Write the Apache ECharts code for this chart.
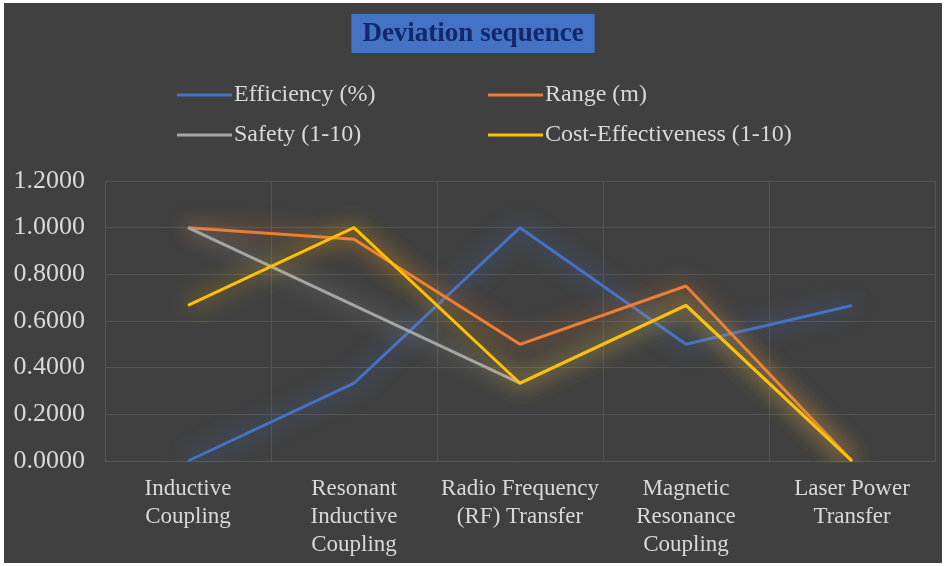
<!DOCTYPE html>
<html>
<head>
<meta charset="utf-8">
<script src="https://cdn.jsdelivr.net/npm/echarts@6/dist/echarts.min.js"></script>
<style>
  html, body { margin: 0; padding: 0; background: #ffffff; }
  #main { position: absolute; left: 4px; top: 3px; width: 938px; height: 560px; background: #404040; }
</style>
</head>
<body>
<div id="main"></div>
<script>
// categories and series (normalised deviation values)
var categories = [
  "Inductive\nCoupling",
  "Resonant\nInductive\nCoupling",
  "Radio Frequency\n(RF) Transfer",
  "Magnetic\nResonance\nCoupling",
  "Laser Power\nTransfer"
];
var efficiency = [0, 0.3333, 1.0, 0.5, 0.6667];
var range = [1.0, 0.95, 0.5, 0.75, 0];
var safety = [1.0, 0.6667, 0.3333, 0.6667, 0];
var costEff = [0.6667, 1.0, 0.3333, 0.6667, 0];

var names = ["Efficiency (%)", "Range (m)", "Safety (1-10)", "Cost-Effectiveness (1-10)"];
var colors = ["#4472C4", "#ED7D31", "#A5A5A5", "#FFC000"];
var seriesData = [efficiency, range, safety, costEff];

var font = "'Liberation Serif', 'DejaVu Serif', serif";

var chart = echarts.init(document.getElementById("main"));

// one legend per item so the 2x2 layout matches
var legendPos = [[168, 75], [479, 75], [168, 115], [479, 115]];
var legends = names.map(function(n, i) {
  return {
    data: [n],
    left: legendPos[i][0],
    top: legendPos[i][1],
    icon: "rect",
    itemWidth: 55,
    itemHeight: 3,
    itemGap: 0,
    textStyle: { color: "#d9d9d9", fontFamily: font, fontSize: 24, padding: [0, 0, 0, -3] }
  };
});

chart.setOption({
  backgroundColor: "#404040",
  color: colors,
  title: {
    text: "Deviation sequence",
    left: "center",
    top: 11,
    backgroundColor: "#4472C4",
    padding: [7, 11, 5, 11],
    textStyle: { color: "#13276b", fontFamily: font, fontWeight: "bold", fontSize: 27 }
  },
  legend: legends,
  grid: { left: 101, right: 7, top: 178, bottom: 102 },
  xAxis: {
    type: "category",
    data: categories,
    boundaryGap: true,
    axisLine: { lineStyle: { color: "#5a5a5a" } },
    axisTick: { show: false },
    splitLine: { show: true, lineStyle: { color: "#555555" } },
    axisLabel: {
      color: "#d9d9d9", fontFamily: font, fontSize: 23, lineHeight: 28,
      interval: 0, margin: 14
    }
  },
  yAxis: {
    type: "value",
    min: 0,
    max: 1.2,
    interval: 0.2,
    axisLine: { show: true, lineStyle: { color: "#555555" } },
    axisTick: { show: false },
    splitLine: { lineStyle: { color: "#555555" } },
    axisLabel: {
      color: "#d9d9d9", fontFamily: font, fontSize: 26, margin: 20,
      formatter: function(v) { return v.toFixed(4); }
    }
  },
  series: names.map(function(n, i) {
    return {
      name: n,
      type: "line",
      data: seriesData[i],
      symbol: "none",
      lineStyle: {
        width: 3,
        color: colors[i],
        shadowColor: colors[i],
        shadowBlur: 22
      }
    };
  })
});
</script>
</body>
</html>
